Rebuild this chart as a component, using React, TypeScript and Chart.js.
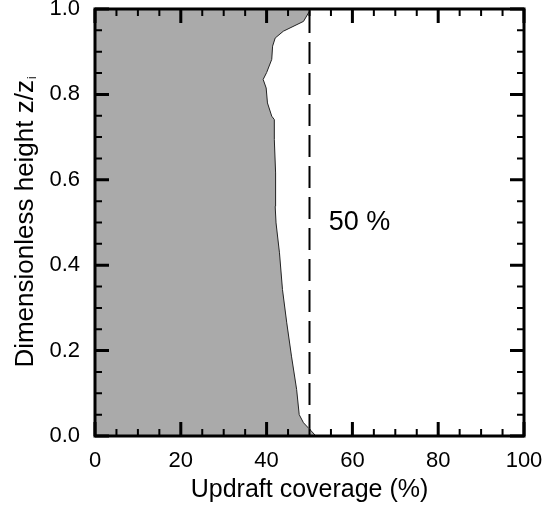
import React, { useEffect, useRef } from 'react';
import { Chart, registerables } from 'chart.js';

Chart.register(...registerables);

// Dimensionless height z/zi (y) and updraft coverage in % (x) of the shaded profile
const heights = [0.0, 0.015, 0.031, 0.05, 0.109, 0.187, 0.265, 0.343, 0.429, 0.499, 0.538, 0.616, 0.694, 0.741, 0.749, 0.78, 0.815, 0.835, 0.851, 0.882, 0.913, 0.932, 0.948, 0.971, 1.0];
const coverage = [51.5, 50.1, 48.6, 47.6, 47.0, 45.8, 44.7, 43.7, 43.0, 42.2, 42.0, 42.1, 41.8, 41.8, 41.2, 40.2, 39.9, 39.2, 40.0, 41.2, 41.4, 42.0, 43.9, 48.6, 50.3];

const referenceCoverage = 50;
const referenceLabel = '50 %';
const xTickValues = [0, 20, 40, 60, 80, 100];
const yTickValues = [0.0, 0.2, 0.4, 0.6, 0.8, 1.0];
const xMinorStep = 5;
const yMinorStep = 0.05;
const xTitle = 'Updraft coverage (%)';
const yTitleMain = 'Dimensionless height z/z';
const yTitleSub = 'i';

const FONT = '"Liberation Sans", Arial, sans-serif';

const framePlugin = {
  id: 'frameAndLabels',
  afterDraw(chart: any) {
    const { ctx, chartArea: a, scales } = chart;
    const x = scales.x;
    const y = scales.y;
    ctx.save();
    ctx.strokeStyle = '#000';
    ctx.lineCap = 'butt';
    // x ticks (bottom and top, inward)
    for (let i = 0; i <= Math.round(100 / xMinorStep); i++) {
      const v = i * xMinorStep;
      const major = xTickValues.includes(v);
      const px = x.getPixelForValue(v);
      const len = major ? 14 : 7;
      ctx.lineWidth = major ? 3 : 2;
      ctx.beginPath();
      ctx.moveTo(px, a.bottom);
      ctx.lineTo(px, a.bottom - len);
      ctx.moveTo(px, a.top);
      ctx.lineTo(px, a.top + len);
      ctx.stroke();
    }
    // y ticks (left and right, inward)
    for (let i = 0; i <= Math.round(1 / yMinorStep); i++) {
      const v = i * yMinorStep;
      const major = yTickValues.some((t) => Math.abs(t - v) < 1e-6);
      const py = y.getPixelForValue(v);
      const len = major ? 14 : 7;
      ctx.lineWidth = major ? 3 : 2;
      ctx.beginPath();
      ctx.moveTo(a.left, py);
      ctx.lineTo(a.left + len, py);
      ctx.moveTo(a.right, py);
      ctx.lineTo(a.right - len, py);
      ctx.stroke();
    }
    // frame
    ctx.lineWidth = 3;
    ctx.strokeRect(a.left, a.top, a.right - a.left, a.bottom - a.top);

    ctx.fillStyle = '#000';
    // annotation text
    ctx.font = `27px ${FONT}`;
    ctx.textAlign = 'left';
    ctx.textBaseline = 'middle';
    ctx.fillText(referenceLabel, x.getPixelForValue(54.5), y.getPixelForValue(0.5));

    // x title
    ctx.font = `25px ${FONT}`;
    ctx.textAlign = 'center';
    ctx.textBaseline = 'alphabetic';
    ctx.fillText(xTitle, (a.left + a.right) / 2, 497);

    // y title with subscript
    ctx.save();
    ctx.translate(33, (a.top + a.bottom) / 2);
    ctx.rotate(-Math.PI / 2);
    ctx.font = `26px ${FONT}`;
    const wMain = ctx.measureText(yTitleMain).width;
    ctx.font = `12px ${FONT}`;
    const wSub = ctx.measureText(yTitleSub).width;
    const start = -(wMain + wSub) / 2;
    ctx.textAlign = 'left';
    ctx.font = `26px ${FONT}`;
    ctx.fillText(yTitleMain, start, 0);
    ctx.font = `12px ${FONT}`;
    ctx.fillText(yTitleSub, start + wMain + 1, 3);
    ctx.restore();

    ctx.restore();
  },
};

export default function App() {
  const canvasRef = useRef<HTMLCanvasElement | null>(null);

  useEffect(() => {
    if (!canvasRef.current) return;
    const profile = heights.map((h, i) => ({ x: coverage[i], y: h }));
    const shape = [{ x: 0, y: 0 }, ...profile, { x: 0, y: 1 }];
    const chart = new Chart(canvasRef.current, {
      type: 'scatter',
      data: {
        datasets: [
          {
            data: shape,
            showLine: true,
            fill: 'shape',
            backgroundColor: '#aaaaaa',
            borderColor: '#222',
            borderWidth: 1,
            pointRadius: 0,
            tension: 0,
          },
          {
            data: [
              { x: referenceCoverage, y: 0 },
              { x: referenceCoverage, y: 1 },
            ],
            showLine: true,
            fill: false,
            borderColor: '#000',
            borderWidth: 2,
            borderDash: [22, 9],
            pointRadius: 0,
          },
        ],
      },
      options: {
        animation: false,
        responsive: false,
        maintainAspectRatio: false,
        layout: { autoPadding: false, padding: { left: 0, top: 9, right: 36, bottom: 0 } },
        plugins: { legend: { display: false }, tooltip: { enabled: false } },
        scales: {
          x: {
            type: 'linear',
            min: 0,
            max: 100,
            afterFit: (s: any) => {
              s.height = 72;
              s.paddingLeft = 0;
              s.paddingRight = 0;
            },
            afterBuildTicks: (s: any) => {
              s.ticks = xTickValues.map((v) => ({ value: v }));
            },
            grid: { display: false, drawTicks: false },
            border: { display: false },
            ticks: {
              padding: 12,
              color: '#000',
              font: { family: FONT, size: 22 },
              maxRotation: 0,
              callback: (v: any) => String(v),
            },
          },
          y: {
            type: 'linear',
            min: 0,
            max: 1,
            afterFit: (s: any) => {
              s.width = 95;
              s.paddingTop = 0;
              s.paddingBottom = 0;
            },
            afterBuildTicks: (s: any) => {
              s.ticks = yTickValues.map((v) => ({ value: v }));
            },
            grid: { display: false, drawTicks: false },
            border: { display: false },
            ticks: {
              padding: 15,
              color: '#000',
              font: { family: FONT, size: 22 },
              callback: (v: any) => Number(v).toFixed(1),
            },
          },
        },
      },
      plugins: [framePlugin],
    });
    return () => chart.destroy();
  }, []);

  return (
    <div style={{ position: 'fixed', left: 0, top: 0, width: 560, height: 508, background: '#fff' }}>
      <canvas ref={canvasRef} width={560} height={508} style={{ display: 'block' }} />
    </div>
  );
}
